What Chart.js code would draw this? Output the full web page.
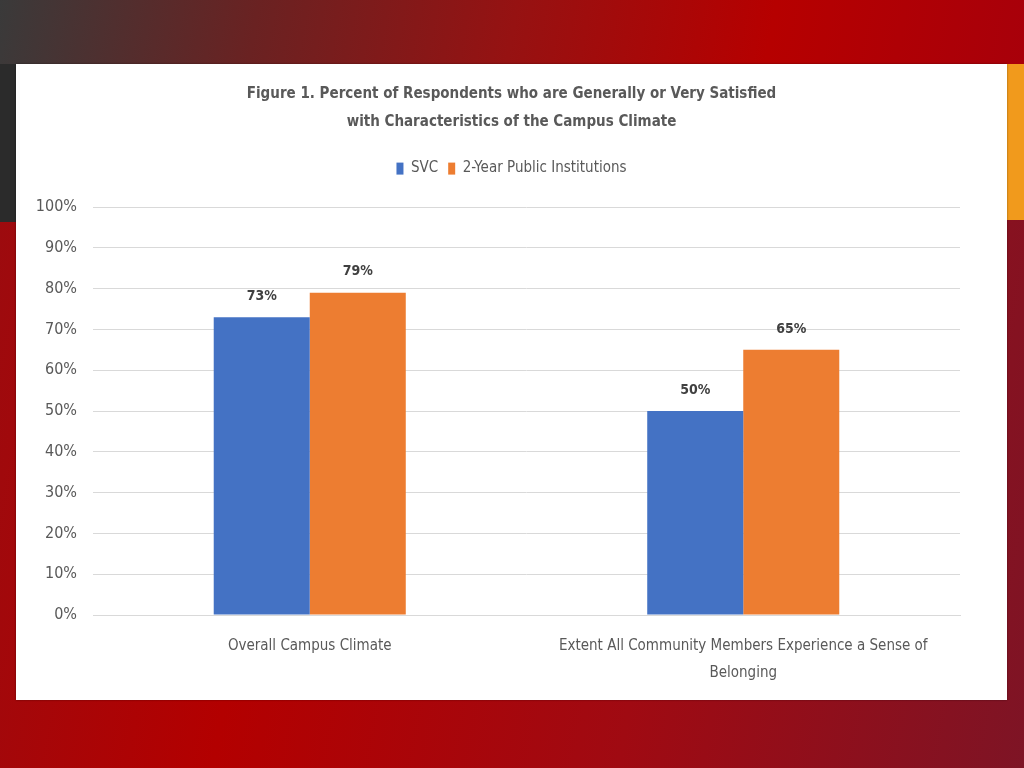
<!DOCTYPE html>
<html>
<head>
<meta charset="utf-8">
<script src="https://cdn.jsdelivr.net/npm/chart.js@4"></script>
<style>
  html, body { margin: 0; padding: 0; }
  body {
    width: 1024px; height: 768px; overflow: hidden; position: relative;
    background: linear-gradient(100deg, #9a0c10 0%, #b30000 30%, #a00a12 65%, #7e1425 100%);
  }
  #topband {
    position: absolute; left: 0; top: 0; width: 1024px; height: 64px;
    background: linear-gradient(100deg, #3a3a3a 0%, #6a2222 25%, #961212 50%, #b60000 75%, #a8000a 100%);
  }
  #leftband { position: absolute; left: 0; top: 64px; width: 20px; height: 158px; background: #2b2b2b; }
  #rightband { position: absolute; left: 1000px; top: 64px; width: 24px; height: 156px; background: #f19a1c; }
  #panel {
    position: absolute; left: 16px; top: 64px; width: 991px; height: 636px;
    background: #fff; box-shadow: 0 0 2px rgba(0,0,0,0.4);
  }
</style>
</head>
<body>
<div id="topband"></div>
<div id="leftband"></div>
<div id="rightband"></div>
<div id="panel"><canvas id="chart-1"></canvas></div>
<script>
const categories = [
  "Overall Campus Climate",
  ["Extent All Community Members Experience a Sense of", "Belonging"]
];
const svcValues = [73, 50];
const publicValues = [79, 65];
const seriesNames = ["SVC", "2-Year Public Institutions"];
const titleLines = [
  "Figure 1. Percent of Respondents who are Generally or Very Satisfied",
  "with Characteristics of the Campus Climate"
];

const fontFamily = "'Liberation Sans Narrow', 'DejaVu Sans Condensed', 'Liberation Sans', sans-serif";
Chart.defaults.font.family = fontFamily;
Chart.defaults.color = "#595959";

// labels on top of bars
const barLabels = {
  id: "barLabels",
  afterDatasetsDraw(chart) {
    const ctx = chart.ctx;
    ctx.save();
    ctx.font = "bold 14px " + fontFamily;
    ctx.fillStyle = "#404040";
    ctx.textAlign = "center";
    ctx.textBaseline = "middle";
    chart.data.datasets.forEach((ds, i) => {
      chart.getDatasetMeta(i).data.forEach((bar, j) => {
        ctx.fillText(ds.data[j] + "%", bar.x, bar.y - 21);
      });
    });
    ctx.restore();
  }
};

// extra room under the legend, and title/legend centred on the whole panel
const legendGap = {
  id: "legendGap",
  beforeInit(chart) {
    const fit = chart.legend.fit;
    chart.legend.fit = function () {
      fit.bind(chart.legend)();
      this.height += 21;
    };
  },
  afterLayout(chart) {
    [chart.titleBlock, chart.legend].forEach((b) => {
      b.left = 0;
      b.right = chart.width;
      b.width = chart.width;
    });
  }
};

const ctx1 = document.getElementById("chart-1").getContext("2d");
const myChart = new Chart(ctx1, {
  type: "bar",
  data: {
    labels: categories,
    datasets: [
      { label: seriesNames[0], data: svcValues, backgroundColor: "#4472C4" },
      { label: seriesNames[1], data: publicValues, backgroundColor: "#ED7D31" },
    ],
  },
  options: {
    responsive: true,
    maintainAspectRatio: false,
    animation: false,
    layout: { padding: { left: 0, right: 47, top: 0, bottom: 0 } },
    datasets: { bar: { categoryPercentage: 0.443, barPercentage: 1.0 } },
    plugins: {
      title: {
        display: true,
        text: titleLines,
        color: "#595959",
        font: { size: 15, weight: "bold", lineHeight: 1.87 },
        padding: { top: 16, bottom: 15 },
      },
      legend: {
        display: true,
        labels: {
          boxWidth: 7, boxHeight: 12, padding: 10,
          font: { size: 15 }, color: "#595959",
        },
      },
      tooltip: { enabled: false },
    },
    scales: {
      x: {
        afterFit(scale) { scale.height = 85; },
        grid: { display: false, drawTicks: false },
        border: { display: true, color: "#d9d9d9" },
        ticks: { font: { size: 15, lineHeight: 1.8 }, padding: 18, maxRotation: 0, color: "#595959" },
      },
      y: {
        min: 0, max: 100,
        afterFit(scale) { scale.width = 77; },
        grid: { color: "#d9d9d9", drawTicks: false },
        border: { display: false },
        ticks: {
          stepSize: 10, padding: 16, font: { size: 16 }, color: "#595959",
          callback: (v) => v + "%",
        },
      },
    },
  },
  plugins: [barLabels, legendGap],
});
</script>
</body>
</html>
